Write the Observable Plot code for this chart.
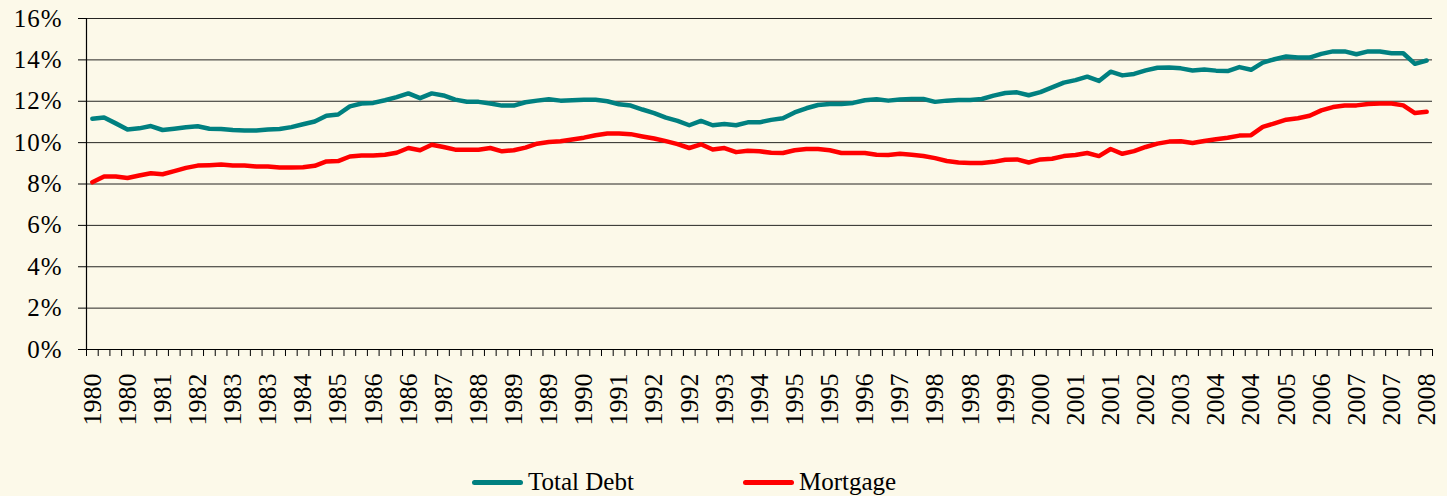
<!DOCTYPE html>
<html>
<head>
<meta charset="utf-8">
<script src="https://cdn.jsdelivr.net/npm/d3@7"></script>
<script src="https://cdn.jsdelivr.net/npm/@observablehq/plot@0.6"></script>
<style>
  html, body { margin: 0; padding: 0; background: #FCF9E9; width: 1447px; height: 496px; overflow: hidden; }
  #chart { position: absolute; left: 0; top: 0; }
  #chart g[aria-label="y-axis tick label"] { letter-spacing: 1px; }
  .legend { position: absolute; top: 467px; font-family: "Liberation Serif", "Times New Roman", serif; font-size: 25px; color: #000; display: flex; align-items: center; line-height: 30px; white-space: nowrap; }
  .legend .sw { display: inline-block; width: 51px; height: 5px; border-radius: 2.5px; margin-right: 5px; }
</style>
</head>
<body>
<div id="chart"></div>
<div class="legend" id="lg1" style="left:472px"><span class="sw" style="background:#008080"></span>Total Debt</div>
<div class="legend" id="lg2" style="left:743px"><span class="sw" style="background:#FF0000"></span>Mortgage</div>
<script>
// Quarterly series, 1980Q1 .. 2008Q3 (percent)
const totalDebt = [
  11.15, 11.21, 10.93, 10.64, 10.69, 10.80, 10.61, 10.67, 10.74, 10.79,
  10.67, 10.66, 10.61, 10.59, 10.59, 10.64, 10.66, 10.75, 10.89, 11.02,
  11.30, 11.36, 11.75, 11.89, 11.92, 12.05, 12.20, 12.38, 12.15, 12.38,
  12.28, 12.08, 11.98, 11.97, 11.89, 11.79, 11.79, 11.95, 12.03, 12.10,
  12.03, 12.05, 12.07, 12.07, 12.00, 11.85, 11.79, 11.60, 11.43, 11.21,
  11.05, 10.84, 11.05, 10.84, 10.90, 10.84, 10.98, 10.98, 11.10, 11.18,
  11.46, 11.66, 11.82, 11.87, 11.87, 11.92, 12.05, 12.10, 12.03, 12.08,
  12.11, 12.11, 11.97, 12.03, 12.06, 12.06, 12.11, 12.27, 12.40, 12.43,
  12.29, 12.44, 12.67, 12.90, 13.02, 13.19, 12.98, 13.43, 13.25, 13.32,
  13.49, 13.62, 13.63, 13.59, 13.49, 13.53, 13.48, 13.46, 13.65, 13.52,
  13.87, 14.03, 14.16, 14.11, 14.11, 14.29, 14.41, 14.41, 14.27, 14.41,
  14.40, 14.32, 14.32, 13.81, 13.97
];
const mortgage = [
  8.08, 8.36, 8.36, 8.29, 8.41, 8.52, 8.47, 8.62, 8.78, 8.89,
  8.91, 8.94, 8.89, 8.89, 8.85, 8.85, 8.80, 8.80, 8.81, 8.88,
  9.09, 9.11, 9.33, 9.38, 9.38, 9.41, 9.51, 9.74, 9.63, 9.90,
  9.79, 9.66, 9.66, 9.66, 9.74, 9.58, 9.63, 9.76, 9.95, 10.03,
  10.07, 10.15, 10.24, 10.36, 10.44, 10.44, 10.41, 10.30, 10.20, 10.07,
  9.93, 9.74, 9.92, 9.67, 9.74, 9.54, 9.61, 9.58, 9.51, 9.50,
  9.63, 9.69, 9.69, 9.63, 9.50, 9.50, 9.50, 9.41, 9.40, 9.46,
  9.41, 9.35, 9.25, 9.11, 9.04, 9.02, 9.02, 9.07, 9.17, 9.19,
  9.04, 9.19, 9.22, 9.35, 9.40, 9.50, 9.35, 9.69, 9.46, 9.59,
  9.79, 9.95, 10.05, 10.07, 9.98, 10.08, 10.16, 10.24, 10.34, 10.36,
  10.76, 10.93, 11.11, 11.18, 11.30, 11.56, 11.72, 11.79, 11.80, 11.87,
  11.89, 11.89, 11.80, 11.43, 11.49
];
// category axis labels (one label every third quarter)
const xTickLabels = [
  "1980","1980","1981","1982","1983","1983","1984","1985","1986","1986",
  "1987","1988","1989","1989","1990","1991","1992","1992","1993","1994",
  "1995","1995","1996","1997","1998","1998","1999","2000","2001","2001",
  "2002","2003","2004","2004","2005","2006","2007","2007","2008"
];
const labelEvery = 3;
const yTicks = [0, 2, 4, 6, 8, 10, 12, 14, 16];
const seriesNames = ["Total Debt", "Mortgage"];

const n = totalDebt.length;
const boundaries = d3.range(n + 1).map(i => i - 0.5);
const labelPos = xTickLabels.map((_, k) => k * labelEvery);
const rows = [
  ...totalDebt.map((v, i) => ({i, v, s: seriesNames[0]})),
  ...mortgage.map((v, i) => ({i, v, s: seriesNames[1]}))
];

const chart = Plot.plot({
  width: 1447,
  height: 440,
  marginLeft: 86,
  marginRight: 15,
  marginTop: 18,
  marginBottom: 91,
  style: { background: "transparent", fontFamily: "'Liberation Serif', 'Times New Roman', serif", color: "#000" },
  x: { type: "linear", domain: [-0.5, n - 0.5] },
  y: { domain: [0, 16] },
  color: { domain: seriesNames, range: ["#008080", "#FF0000"] },
  marks: [
    Plot.gridY(yTicks, { stroke: "#000", strokeOpacity: 0.85, strokeWidth: 1 }),
    Plot.axisY(yTicks, { tickSize: 8, tickPadding: 16, tickFormat: d => d + "%", fontSize: 25, stroke: "#000", label: null }),
    Plot.axisX(boundaries, { tickSize: 7, tickFormat: () => "", stroke: "#000", label: null }),
    Plot.axisX(labelPos, { tickSize: 0, tickPadding: 24, tickRotate: -90, tickFormat: (d) => xTickLabels[d / labelEvery], fontSize: 26, label: null }),
    Plot.ruleX([-0.5], { y1: 0, y2: 16, stroke: "#000", strokeWidth: 1.2 }),
    Plot.ruleY([0], { stroke: "#000", strokeWidth: 1.2 }),
    Plot.lineY(rows, { x: "i", y: "v", z: "s", stroke: "s", strokeWidth: 4.5, strokeLinejoin: "round", strokeLinecap: "round" })
  ]
});
document.getElementById("chart").appendChild(chart);
</script>
</body>
</html>
